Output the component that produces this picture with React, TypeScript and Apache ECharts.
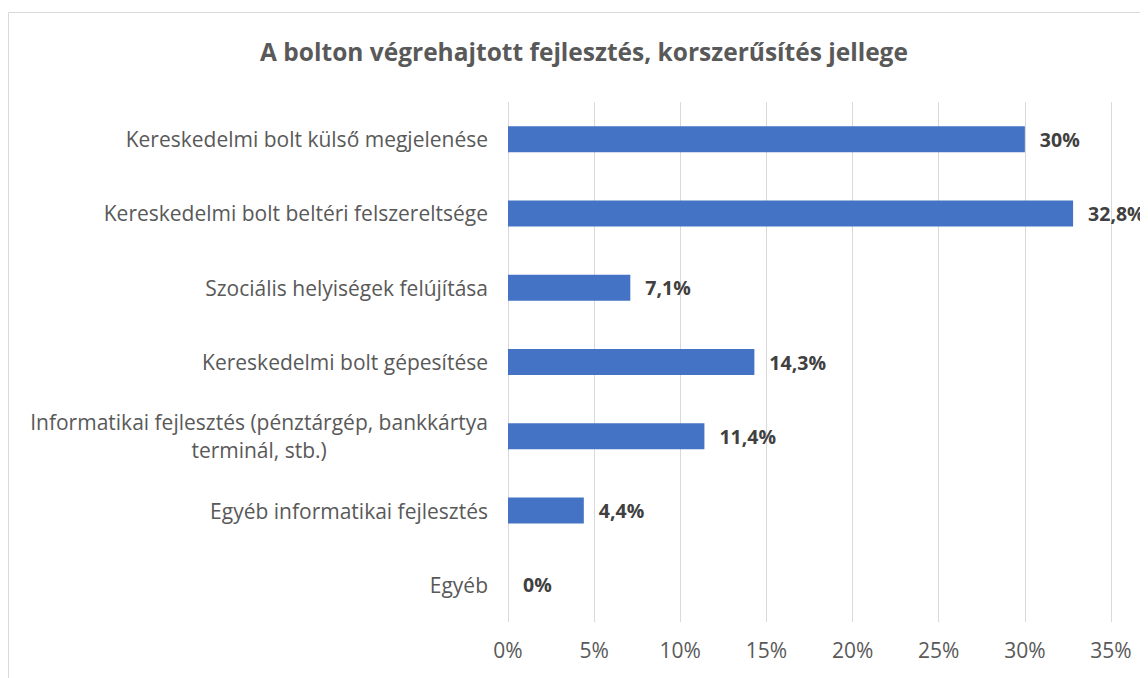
import React, { useEffect, useRef } from "react";
import * as echarts from "echarts";

const titleText = "A bolton végrehajtott fejlesztés, korszerűsítés jellege";
const categories = [
  "Kereskedelmi bolt külső megjelenése",
  "Kereskedelmi bolt beltéri felszereltsége",
  "Szociális helyiségek felújítása",
  "Kereskedelmi bolt gépesítése",
  "Informatikai fejlesztés (pénztárgép, bankkártya\nterminál, stb.)",
  "Egyéb informatikai fejlesztés",
  "Egyéb",
];
const values = [30, 32.8, 7.1, 14.3, 11.4, 4.4, 0];
const valueLabels = ["30%", "32,8%", "7,1%", "14,3%", "11,4%", "4,4%", "0%"];

const FONT = "'Open Sans', 'Noto Sans', sans-serif";

export default function App() {
  const ref = useRef<HTMLDivElement>(null);
  useEffect(() => {
    if (!ref.current) return;
    const chart = echarts.init(ref.current, null, { renderer: "svg" });
    chart.setOption({
      animation: false,
      backgroundColor: "#ffffff",
      textStyle: { fontFamily: FONT },
      title: {
        text: titleText,
        left: 571,
        top: 26,
        textAlign: "center",
        textStyle: { fontFamily: FONT, fontSize: 24.5, fontWeight: "bold", color: "#595959" },
      },
      graphic: [
        {
          type: "rect",
          shape: { x: 0.5, y: 4.5, width: 1200, height: 800 },
          style: { fill: "none", stroke: "#d9d9d9", lineWidth: 1 },
          silent: true,
        },
      ],
      grid: { left: 500, right: 37, top: 94, bottom: 56, containLabel: false },
      xAxis: {
        type: "value",
        min: 0,
        max: 35,
        interval: 5,
        axisLine: { show: false },
        axisTick: { show: false },
        splitLine: { show: true, lineStyle: { color: "#d9d9d9", width: 1 } },
        axisLabel: {
          formatter: (v: number) => v + "%",
          fontFamily: FONT,
          fontSize: 21,
          color: "#595959",
          margin: 17,
        },
      },
      yAxis: {
        type: "category",
        data: categories,
        inverse: true,
        axisLine: { show: false },
        axisTick: { show: false },
        splitLine: { show: false },
        axisLabel: {
          fontFamily: FONT,
          fontSize: 21,
          color: "#595959",
          margin: 20,
          lineHeight: 28,
          formatter: (v: string) =>
            v
              .split("\n")
              .map((l) => "{c|" + l + "}")
              .join("\n"),
          rich: {
            c: { fontFamily: FONT, fontSize: 21, color: "#595959", align: "center", lineHeight: 28 },
          },
        },
      },
      series: [
        {
          type: "bar",
          data: values,
          barWidth: 26,
          itemStyle: { color: "#4472C4" },
          label: {
            show: true,
            position: "right",
            distance: 15,
            formatter: (p: any) => valueLabels[p.dataIndex],
            fontFamily: FONT,
            fontSize: 19.5,
            fontWeight: "bold",
            color: "#404040",
          },
        },
      ],
    });
    return () => chart.dispose();
  }, []);
  return <div ref={ref} style={{ width: 1140, height: 670 }} />;
}
